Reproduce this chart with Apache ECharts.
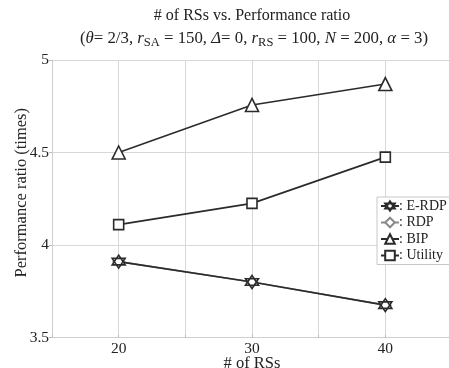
<!DOCTYPE html>
<html>
<head>
<meta charset="utf-8">
<script src="https://cdn.jsdelivr.net/npm/echarts@6/dist/echarts.min.js"></script>
<style>
	html, body { margin: 0; padding: 0; background: #fff; }
	#chart { width: 449px; height: 368px; }
</style>
</head>
<body>
<div id="chart"></div>
<script>
	// data
	var numRSs = [20, 30, 40];
	var eRdp = [3.91, 3.80, 3.675];
	var rdp = [3.91, 3.80, 3.675];
	var bip = [4.50, 4.757, 4.87];
	var utility = [4.11, 4.225, 4.475];

	var FONT = '"Liberation Serif", "DejaVu Serif", serif';
	var LINE = '#2b2b2b';
	// hexagram (two triangles)
	var HEXA = 'path://M0,-10L8.66,5L-8.66,5ZM0,10L-8.66,-5L8.66,-5Z';

	function pairs(ys) {
		return numRSs.map(function (x, i) { return [x, ys[i]]; });
	}

	function mkSeries(name, ys, symbol, size, color, z) {
		return {
			name: name,
			type: 'line',
			data: pairs(ys),
			symbol: symbol,
			symbolSize: size,
			z: z,
			lineStyle: { color: color, width: 1.6 },
			itemStyle: { color: '#fff', borderColor: color, borderWidth: 1.6 }
		};
	}

	var chart = echarts.init(document.getElementById('chart'));
	var option = {
		animation: false,
		backgroundColor: '#fff',
		textStyle: { fontFamily: FONT },
		title: [{
			text: '# of RSs vs. Performance ratio',
			left: 247,
			top: 3,
			textAlign: 'center',
			textStyle: { fontFamily: FONT, fontSize: 16, fontWeight: 'normal', color: '#222' }
		}, {
			text: '({i|θ}= 2/3, {i|r}{s|SA} = 150, {i|Δ}= 0, {i|r}{s|RS} = 100, {i|N} = 200, {i|α} = 3)',
			left: 249,
			top: 23,
			textAlign: 'center',
			textStyle: {
				fontFamily: FONT, fontSize: 16.8, fontWeight: 'normal', color: '#222',
				rich: {
					i: { fontFamily: FONT, fontSize: 16.8, fontStyle: 'italic', color: '#222' },
					s: { fontFamily: FONT, fontSize: 12.5, color: '#222', padding: [8, 0, 0, 0] }
				}
			}
		}],
		legend: {
			orient: 'vertical',
			left: 377,
			top: 197,
			itemWidth: 18,
			itemHeight: 12,
			itemGap: 2.5,
			padding: [2, 3, 2, 3],
			borderColor: '#c8c8c8',
			borderWidth: 1,
			backgroundColor: '#fff',
			formatter: ': {name}',
			textStyle: { fontFamily: FONT, fontSize: 14, color: '#222', padding: [0, 0, 0, -5] },
			data: ['E-RDP', 'RDP', 'BIP', 'Utility']
		},
		grid: { left: 52, right: -3, top: 60, bottom: 30.5, containLabel: false, outerBoundsMode: 'none' },
		xAxis: {
			type: 'value',
			min: 15,
			max: 45,
			interval: 5,
			name: '# of RSs',
			nameLocation: 'middle',
			nameGap: 18,
			nameMoveOverlap: false,
			nameTextStyle: { fontFamily: FONT, fontSize: 16.5, color: '#222' },
			axisLine: { show: true, lineStyle: { color: '#cfcfcf' } },
			axisTick: { show: true, inside: true, length: 3, lineStyle: { color: '#bbb' } },
			axisLabel: {
				fontFamily: FONT, fontSize: 15.5, color: '#222', margin: 3,
				formatter: function (v) { return v % 10 === 0 ? String(v) : ''; }
			},
			splitLine: { show: true, lineStyle: { color: '#d8d8d8', width: 1 } }
		},
		yAxis: {
			type: 'value',
			min: 3.5,
			max: 5,
			interval: 0.5,
			name: 'Performance ratio (times)',
			nameLocation: 'middle',
			nameGap: 22,
			nameMoveOverlap: false,
			nameTextStyle: { fontFamily: FONT, fontSize: 16.5, color: '#222', padding: [0, 0, 0, 12] },
			axisLine: { show: true, lineStyle: { color: '#cfcfcf' } },
			axisTick: { show: true, length: 3, lineStyle: { color: '#bbb' } },
			axisLabel: { fontFamily: FONT, fontSize: 15.5, color: '#222', margin: 3 },
			splitLine: { show: true, lineStyle: { color: '#d8d8d8', width: 1 } }
		},
		series: [
			mkSeries('RDP', rdp, 'diamond', 11, '#8a8a8a', 2),
			mkSeries('E-RDP', eRdp, HEXA, 13, LINE, 3),
			mkSeries('BIP', bip, 'triangle', 13, LINE, 3),
			mkSeries('Utility', utility, 'rect', 10, LINE, 3)
		]
	};
	chart.setOption(option);
</script>
</body>
</html>
